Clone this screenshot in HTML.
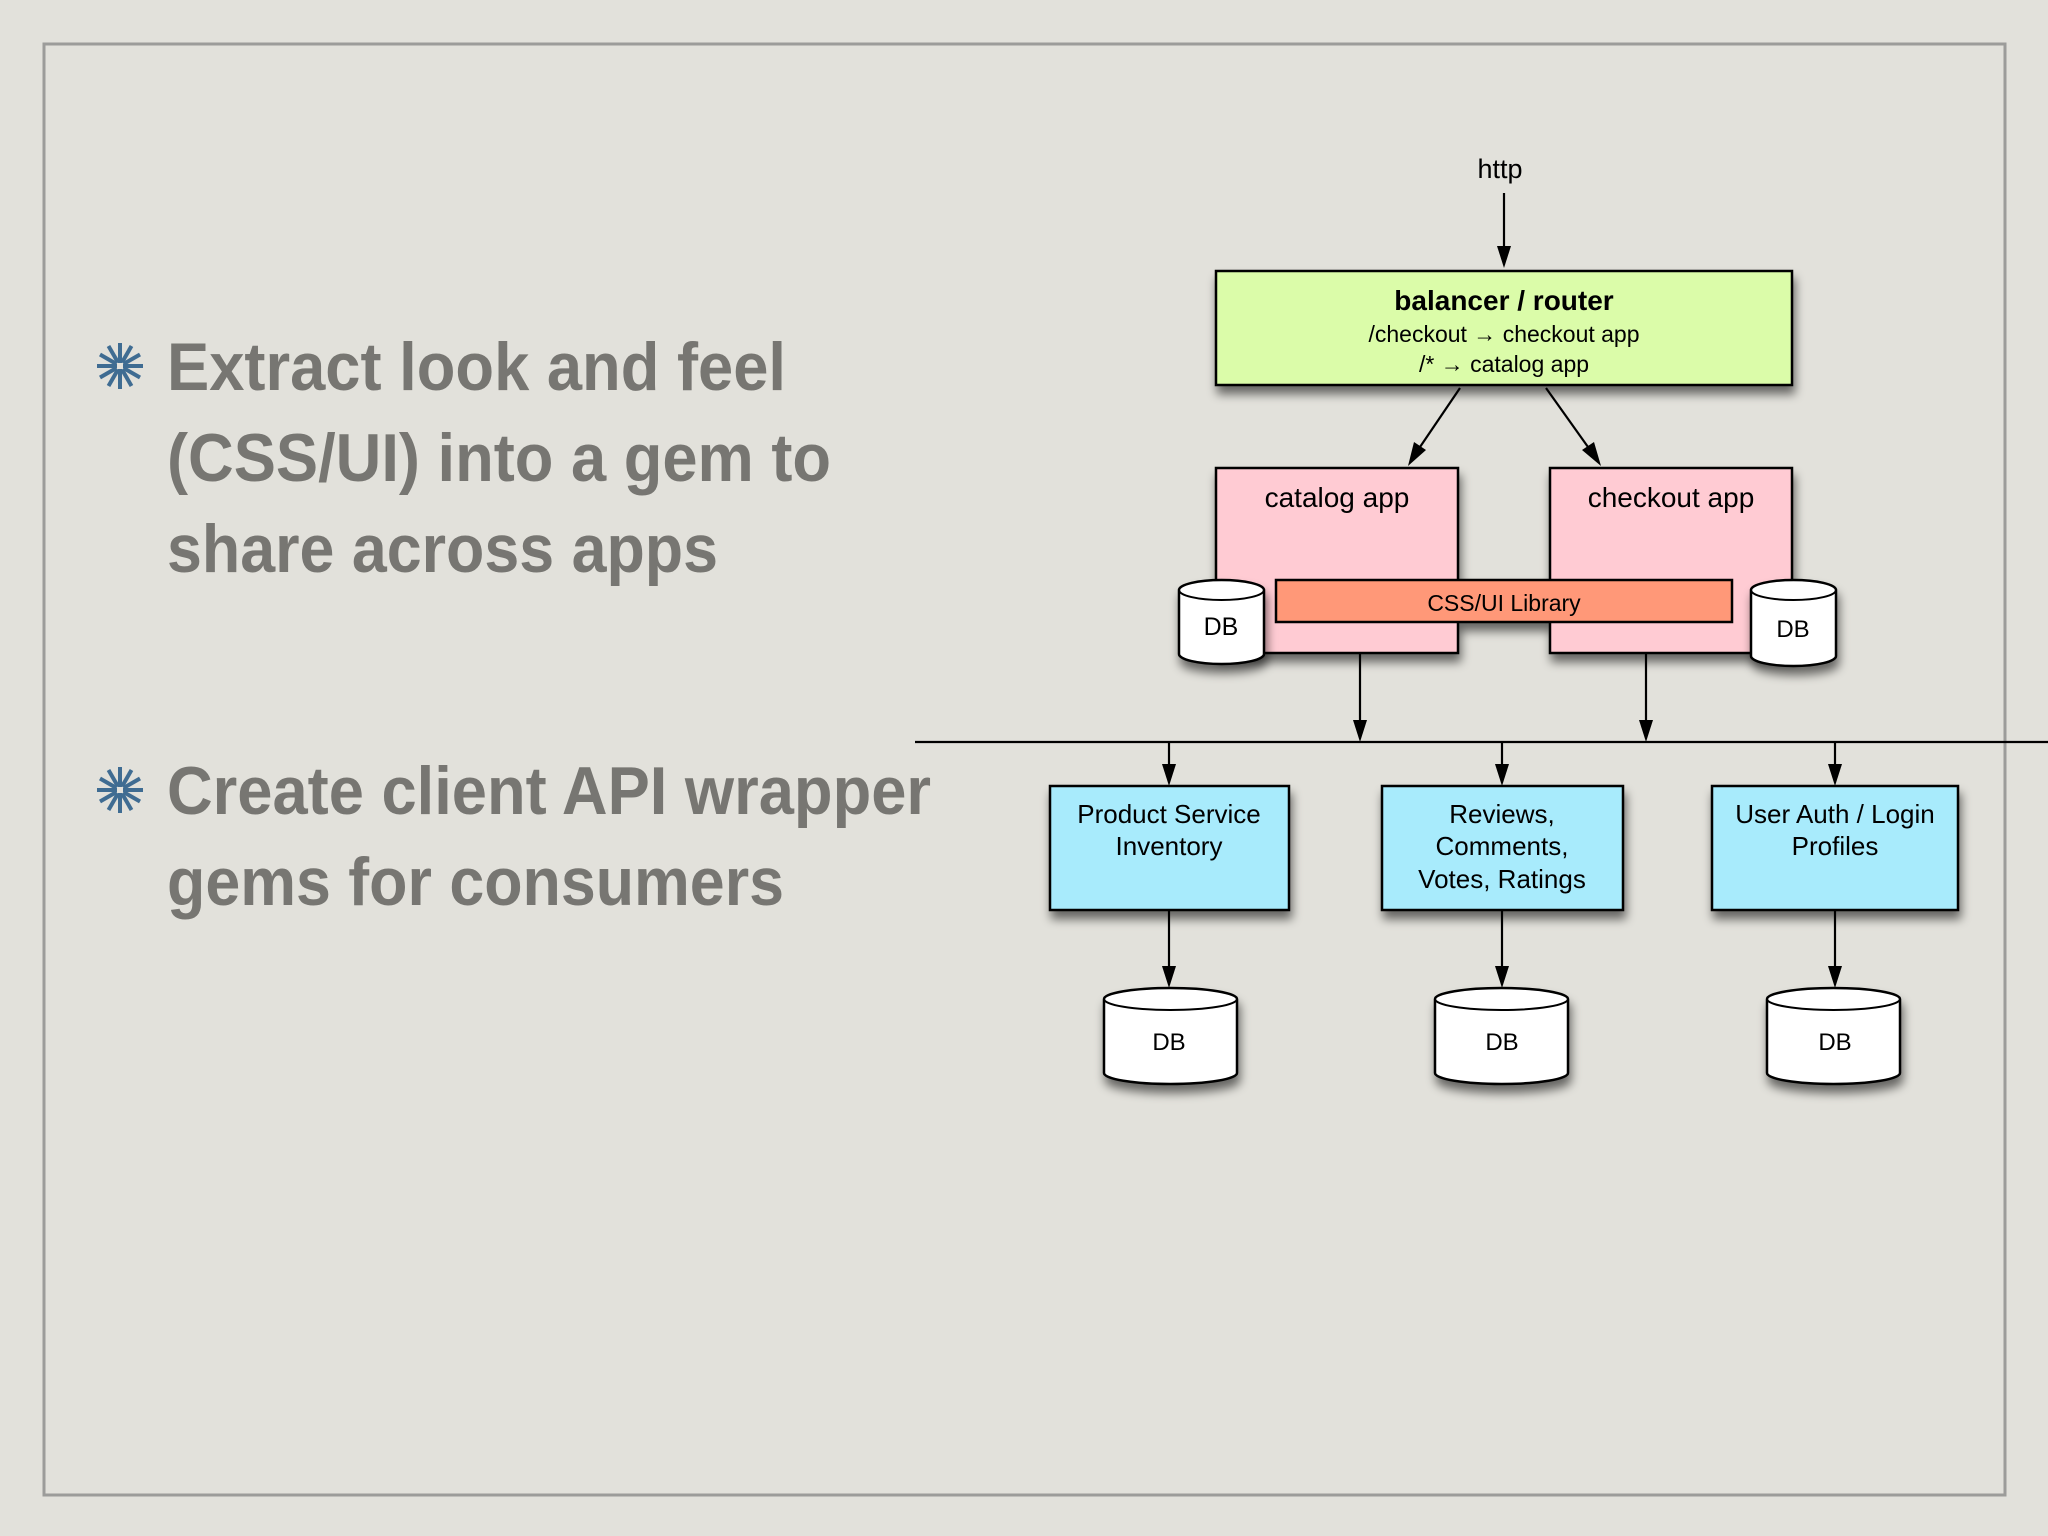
<!DOCTYPE html>
<html><head><meta charset="utf-8"><style>
html,body{margin:0;padding:0;background:#e2e1db;}
svg{display:block}
</style></head><body>
<svg width="2048" height="1536" viewBox="0 0 2048 1536" xmlns="http://www.w3.org/2000/svg">
<defs>
<filter id="sh" x="-20%" y="-20%" width="140%" height="150%">
<feGaussianBlur in="SourceAlpha" stdDeviation="5"/>
<feOffset dx="2" dy="8" result="b"/>
<feComponentTransfer><feFuncA type="linear" slope="0.55"/></feComponentTransfer>
<feMerge><feMergeNode/><feMergeNode in="SourceGraphic"/></feMerge>
</filter>
<g id="ast" stroke="#3f6c92" stroke-width="4" stroke-linecap="butt">
<line x1="0" y1="-3" x2="0" y2="-23"/><line x1="0" y1="3" x2="0" y2="23"/>
<line x1="-3" y1="0" x2="-23" y2="0"/><line x1="3" y1="0" x2="23" y2="0"/>
<line x1="2" y1="3.5" x2="11.5" y2="20"/><line x1="-2" y1="-3.5" x2="-11.5" y2="-20"/>
<line x1="-2" y1="3.5" x2="-11.5" y2="20"/><line x1="2" y1="-3.5" x2="11.5" y2="-20"/>
<line x1="3.5" y1="2" x2="20" y2="11.5"/><line x1="-3.5" y1="-2" x2="-20" y2="-11.5"/>
<line x1="3.5" y1="-2" x2="20" y2="-11.5"/><line x1="-3.5" y1="2" x2="-20" y2="11.5"/>
</g>
</defs>
<rect x="0" y="0" width="2048" height="1536" fill="#e2e1db"/>
<rect x="44" y="44" width="1961" height="1451" fill="none" stroke="#9c9c9a" stroke-width="3"/>

<use href="#ast" x="120" y="366"/>
<use href="#ast" x="120" y="790"/>
<g font-family="'Liberation Sans Narrow','Liberation Sans',sans-serif" font-weight="bold" font-size="68" fill="#777672">
<text x="167" y="390" textLength="619" lengthAdjust="spacingAndGlyphs">Extract look and feel</text>
<text x="167" y="481" textLength="664" lengthAdjust="spacingAndGlyphs">(CSS/UI) into a gem to</text>
<text x="167" y="572" textLength="551" lengthAdjust="spacingAndGlyphs">share across apps</text>
<text x="167" y="814" textLength="764" lengthAdjust="spacingAndGlyphs">Create client API wrapper</text>
<text x="167" y="905" textLength="617" lengthAdjust="spacingAndGlyphs">gems for consumers</text>
</g>

<g font-family="'Liberation Sans',sans-serif" fill="#000" text-anchor="middle">
<text x="1500" y="178" font-size="27">http</text>
</g>

<g stroke="#000" stroke-width="2.2">
<line x1="1504" y1="193" x2="1504" y2="248"/>
<line x1="1460" y1="388" x2="1420" y2="447"/>
<line x1="1546" y1="388" x2="1588" y2="447"/>
<line x1="1360" y1="653" x2="1360" y2="722"/>
<line x1="1646" y1="653" x2="1646" y2="722"/>
<line x1="915" y1="742" x2="2048" y2="742"/>
<line x1="1169" y1="742" x2="1169" y2="766"/>
<line x1="1502" y1="742" x2="1502" y2="766"/>
<line x1="1835" y1="742" x2="1835" y2="766"/>
<line x1="1169" y1="910" x2="1169" y2="968"/>
<line x1="1502" y1="910" x2="1502" y2="968"/>
<line x1="1835" y1="910" x2="1835" y2="968"/>
</g>
<g fill="#000">
<polygon points="1497,246 1511,246 1504,268"/>
<polygon points="1414,442 1426,450 1408,466"/>
<polygon points="1582,450 1594,442 1601,466"/>
<polygon points="1353,720 1367,720 1360,742"/>
<polygon points="1639,720 1653,720 1646,742"/>
<polygon points="1162,764 1176,764 1169,786"/>
<polygon points="1495,764 1509,764 1502,786"/>
<polygon points="1828,764 1842,764 1835,786"/>
<polygon points="1162,966 1176,966 1169,988"/>
<polygon points="1495,966 1509,966 1502,988"/>
<polygon points="1828,966 1842,966 1835,988"/>
</g>

<g stroke="#000" stroke-width="2.5" filter="url(#sh)">
<rect x="1216" y="271" width="576" height="114" fill="#dbfca9"/>
<rect x="1216" y="468" width="242" height="185" fill="#ffcbd3"/>
<rect x="1550" y="468" width="242" height="185" fill="#ffcbd3"/>
<rect x="1276" y="580" width="456" height="42" fill="#ff9878"/>
<rect x="1050" y="786" width="239" height="124" fill="#a8ebfc"/>
<rect x="1382" y="786" width="241" height="124" fill="#a8ebfc"/>
<rect x="1712" y="786" width="246" height="124" fill="#a8ebfc"/>
</g>

<g stroke="#000" stroke-width="2.5" fill="#fff" filter="url(#sh)">
<path d="M1179,590 A42.5,10 0 0 1 1264,590 L1264,654 A42.5,10 0 0 1 1179,654 Z"/>
<path d="M1751,590 A42.5,10 0 0 1 1836,590 L1836,656 A42.5,10 0 0 1 1751,656 Z"/>
<path d="M1104,999 A66.5,11 0 0 1 1237,999 L1237,1073 A66.5,11 0 0 1 1104,1073 Z"/>
<path d="M1435,999 A66.5,11 0 0 1 1568,999 L1568,1073 A66.5,11 0 0 1 1435,1073 Z"/>
<path d="M1767,999 A66.5,11 0 0 1 1900,999 L1900,1073 A66.5,11 0 0 1 1767,1073 Z"/>
</g>
<g stroke="#000" stroke-width="2" fill="none">
<path d="M1179,590 A42.5,10 0 0 0 1264,590"/>
<path d="M1751,590 A42.5,10 0 0 0 1836,590"/>
<path d="M1104,999 A66.5,11 0 0 0 1237,999"/>
<path d="M1435,999 A66.5,11 0 0 0 1568,999"/>
<path d="M1767,999 A66.5,11 0 0 0 1900,999"/>
</g>

<g font-family="'Liberation Sans',sans-serif" fill="#000" text-anchor="middle">
<text x="1504" y="310" font-size="28" font-weight="bold">balancer / router</text>
<text x="1504" y="342" font-size="23">/checkout → checkout app</text>
<text x="1504" y="372" font-size="23">/* → catalog app</text>
<text x="1337" y="507" font-size="28">catalog app</text>
<text x="1671" y="507" font-size="28">checkout app</text>
<text x="1504" y="611" font-size="23">CSS/UI Library</text>
<text x="1221" y="635" font-size="25">DB</text>
<text x="1793" y="637" font-size="24">DB</text>
<text x="1169" y="823" font-size="26">Product Service</text>
<text x="1169" y="855" font-size="26">Inventory</text>
<text x="1502" y="823" font-size="26">Reviews,</text>
<text x="1502" y="855" font-size="26">Comments,</text>
<text x="1502" y="888" font-size="26">Votes, Ratings</text>
<text x="1835" y="823" font-size="26">User Auth / Login</text>
<text x="1835" y="855" font-size="26">Profiles</text>
<text x="1169" y="1050" font-size="24">DB</text>
<text x="1502" y="1050" font-size="24">DB</text>
<text x="1835" y="1050" font-size="24">DB</text>
</g>
</svg>
</body></html>
